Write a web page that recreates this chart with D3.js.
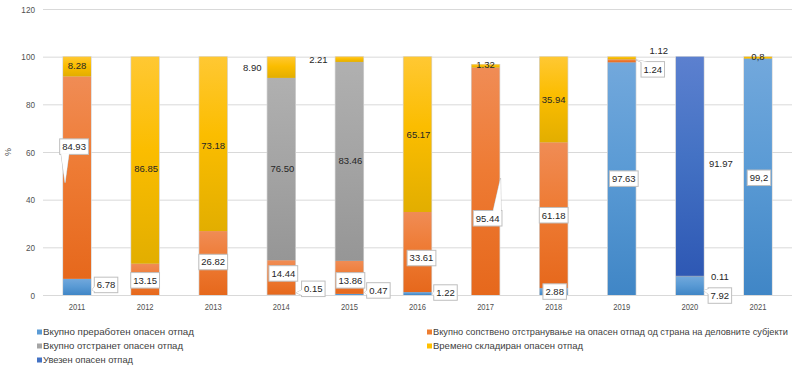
<!DOCTYPE html>
<html><head><meta charset="utf-8">
<script src="https://cdn.jsdelivr.net/npm/d3@7/dist/d3.min.js"></script>
<style>
body{margin:0;background:#fff;}
svg{display:block;}
.ax text{font-family:"Liberation Sans",Arial,sans-serif;font-size:9.5px;fill:#505050;}
.lbl{font-family:"Liberation Sans",Arial,sans-serif;font-size:9.5px;fill:#262626;}
.leg{font-family:"Liberation Sans",Arial,sans-serif;font-size:9.2px;fill:#404040;}
</style></head><body>
<svg id="c" width="800" height="369"></svg>
<script>
// ---------- DATA ----------
const years = ["2011","2012","2013","2014","2015","2016","2017","2018","2019","2020","2021"];
const processed   = [6.78, 0, 0, 0.15, 0.47, 1.22, 0, 2.88, 97.63, 7.92, 99.2];
const ownDisposal = [84.93, 13.15, 26.82, 14.44, 13.86, 33.61, 95.44, 61.18, 1.24, 0.11, 0];
const disposed    = [0, 0, 0, 76.50, 83.46, 0, 0, 0, 0, 0, 0];
const stored      = [8.28, 86.85, 73.18, 8.90, 2.21, 65.17, 1.32, 35.94, 1.12, 0, 0.8];
const imported    = [0, 0, 0, 0, 0, 0, 0, 0, 0, 91.97, 0];
const yTicks = [0, 20, 40, 60, 80, 100, 120];
const seriesNames = [
  "Вкупно преработен опасен отпад",
  "Вкупно сопствено отстранување на опасен отпад од страна на деловните субјекти",
  "Вкупно отстранет опасен отпад",
  "Времено складиран опасен отпад",
  "Увезен опасен отпад"
];
// label texts (as printed on the chart)
const processedLabels = ["6.78", null, null, "0.15", "0.47", "1.22", null, "2.88", "97.63", "7.92", "99,2"];
const ownLabels       = ["84.93", "13.15", "26.82", "14.44", "13.86", "33.61", "95.44", "61.18", "1.24", "0.11", null];
const disposedLabels  = [null, null, null, "76.50", "83.46", null, null, null, null, null, null];
const storedLabels    = ["8.28", "86.85", "73.18", "8.90", "2.21", "65.17", "1.32", "35.94", "1.12", null, "0,8"];
const importedLabels  = [null, null, null, null, null, null, null, null, null, "91.97", null];

// ---------- STYLE / LAYOUT ----------
const keys = ["processed","ownDisposal","disposed","stored","imported"];
const colors = {
  processed:   ["#72a8dc","#5b9bd5","#4086c6"],
  ownDisposal: ["#f08c55","#ee7b34","#e6681c"],
  disposed:    ["#b0b0b0","#a5a5a5","#969696"],
  stored:      ["#ffc833","#fbbd00","#e2ae00"],
  imported:    ["#5c80cf","#4472c4","#2e58b4"]
};
const legendColors = {processed:"#5b9bd5",ownDisposal:"#ed7d31",disposed:"#a5a5a5",stored:"#ffc000",imported:"#4472c4"};
const legendWidths = [151, 355, 140, 150, 90];
const placement = {
  processed:   [{dx:29,dy:-2,box:1,tip:[15,3]},null,null,{dx:32,dy:-6,box:1,tip:[15,-2]},{dx:29,dy:-4,box:1,tip:[15,-2]},{dx:28,dy:-1,box:1,tip:[15,0]},null,{dx:1,dy:0,box:1},{dx:2,dy:0,box:1},{dx:30,dy:10,box:1,tip:[14,5]},{dx:1,dy:1,box:1}],
  ownDisposal: [{dx:-3,dy:-31,box:1,tip:[-12,5]},{dx:0,dy:1,box:1},{dx:0,dy:-1,box:1},{dx:2,dy:-4,box:1},{dx:1,dy:3,box:1},{dx:4,dy:6,box:1},{dx:2,dy:37,box:1,tip:[15,-3]},{dx:0,dy:0,box:1},{dx:31,dy:8.5,box:1,tip:[14,-1]},{dx:30,dy:1,box:0},null],
  disposed:    [null,null,null,{dx:1,dy:0},{dx:1,dy:-1},null,null,null,null,null,null],
  stored:      [{dx:0,dy:-1},{dx:1,dy:9},{dx:0,dy:2},{dx:-29,dy:0},{dx:-31,dy:0},{dx:1,dy:0},{dx:0,dy:-1},{dx:0,dy:0},{dx:37,dy:-7},null,{dx:0,dy:-1}],
  imported:    [null,null,null,null,null,null,null,null,null,{dx:31,dy:-3},null]
};

const values = {processed, ownDisposal, disposed, stored, imported};
const labels = {processed:processedLabels, ownDisposal:ownLabels, disposed:disposedLabels, stored:storedLabels, imported:importedLabels};

const table = years.map((yr,i)=>{const o={year:yr,i}; keys.forEach(k=>o[k]=values[k][i]); return o;});

function squeeze(sel, f){
  sel.each(function(){
    const l = this.getComputedTextLength();
    d3.select(this).attr("textLength", l*f).attr("lengthAdjust","spacingAndGlyphs");
  });
}

const svg = d3.select("#c");
const L=43, R=792, T=9, B=295;
const x = d3.scaleBand().domain(years).range([L,R]).paddingInner(0.59).paddingOuter(0.295);
const y = d3.scaleLinear().domain([0,120]).range([B,T]);

const defs = svg.append("defs");
keys.forEach(k=>{
  const g = defs.append("linearGradient").attr("id","g-"+k).attr("x1",0).attr("y1",0).attr("x2",0).attr("y2",1);
  g.append("stop").attr("offset","0%").attr("stop-color",colors[k][0]);
  g.append("stop").attr("offset","45%").attr("stop-color",colors[k][1]);
  g.append("stop").attr("offset","100%").attr("stop-color",colors[k][2]);
});

// y axis + grid
const yAxis = svg.append("g").attr("class","ax").attr("transform",`translate(${L},0)`)
  .call(d3.axisLeft(y).tickValues(yTicks).tickSize(-(R-L)).tickPadding(8).tickFormat(d3.format("d")));
yAxis.select(".domain").remove();
yAxis.selectAll("line").attr("stroke","#d9d9d9").attr("stroke-width",1);
squeeze(yAxis.selectAll("text"), 0.86);

// x axis
const xAxis = svg.append("g").attr("class","ax").attr("transform",`translate(0,${B})`)
  .call(d3.axisBottom(x).tickSize(0).tickPadding(8));
xAxis.select(".domain").remove();
squeeze(xAxis.selectAll("text"), 0.8);

// % title
svg.append("text").attr("transform","translate(11,152) rotate(-90)")
  .attr("text-anchor","middle").attr("font-family","Liberation Sans, Arial, sans-serif")
  .attr("font-size","9px").attr("fill","#505050").text("%");

const stack = d3.stack().keys(keys)(table);
const bw = x.bandwidth();
svg.append("g").selectAll("rect").data(table).join("rect")
  .attr("x",d=>x(d.year)-0.7).attr("width",bw+1.4)
  .attr("y",d=>y(d3.sum(keys,k=>d[k]))-0.4)
  .attr("height",d=>y(0)-y(d3.sum(keys,k=>d[k]))+0.4)
  .attr("fill","#d6d6d6");
svg.append("g").selectAll("g").data(stack).join("g")
  .attr("fill",s=>`url(#g-${s.key})`)
  .selectAll("rect").data(s=>s.filter(d=>d[1]-d[0]>0)).join("rect")
  .attr("x",d=>x(d.data.year)).attr("width",bw)
  .attr("y",d=>y(d[1])).attr("height",d=>y(d[0])-y(d[1]));

// labels
const lg = svg.append("g");
stack.forEach(s=>{
  s.forEach((d,i)=>{
    const txt = labels[s.key][i]; const p = placement[s.key][i];
    if(!txt||!p) return;
    const cx = x(d.data.year)+bw/2, cy = (y(d[0])+y(d[1]))/2;
    const tx = cx+p.dx, ty = cy+p.dy;
    const g = lg.append("g");
    const t = g.append("text").attr("class","lbl").attr("x",tx).attr("y",ty).attr("dy","0.35em")
      .attr("text-anchor","middle").text(txt);
    if(p.box){
      const w = t.node().getComputedTextLength()+5, h = 15.5;
      const bx = tx-w/2, by = ty-h/2;
      let tri=null;
      if(p.tip){
        const px = cx+p.tip[0], py = cy+p.tip[1];
        if(py>by+h){const c=Math.max(bx+5,Math.min(bx+w-5,px)); tri=[[c-4,by+h-1],[c+4,by+h-1],[px,py]];}
        else if(py<by){const c=Math.max(bx+5,Math.min(bx+w-5,px)); tri=[[c-4,by+1],[c+4,by+1],[px,py]];}
        else if(px<bx){const c=Math.max(by+4,Math.min(by+h-4,py)); tri=[[bx+1,c-3],[bx+1,c+3],[px,py]];}
        else {const c=Math.max(by+4,Math.min(by+h-4,py)); tri=[[bx+w-1,c-3],[bx+w-1,c+3],[px,py]];}
      }
      const line = d3.line();
      if(tri) g.insert("path","text").attr("d",line(tri)+"Z").attr("fill","#fff").attr("stroke","#bfbfbf").attr("stroke-width",1);
      g.insert("rect","text").attr("x",bx).attr("y",by).attr("width",w).attr("height",h)
        .attr("fill","#fff").attr("stroke","#bfbfbf").attr("stroke-width",1);
      if(tri) g.insert("path","text").attr("d",line(tri)+"Z").attr("fill","#fff");
      t.attr("fill","#404040");
    }
  });
});

// legend
const legPos = [[37,332],[427,332],[37,346],[427,346],[37,360]];
const leg = svg.append("g");
keys.forEach((k,i)=>{
  const [lx,ly] = legPos[i];
  leg.append("rect").attr("x",lx).attr("y",ly-2.5).attr("width",5).attr("height",5).attr("fill",legendColors[k]);
  leg.append("text").attr("class","leg").attr("x",lx+6).attr("y",ly).attr("dy","0.35em")
    .attr("textLength",legendWidths[i]).attr("lengthAdjust","spacingAndGlyphs").text(seriesNames[i]);
});
</script>
</body></html>
